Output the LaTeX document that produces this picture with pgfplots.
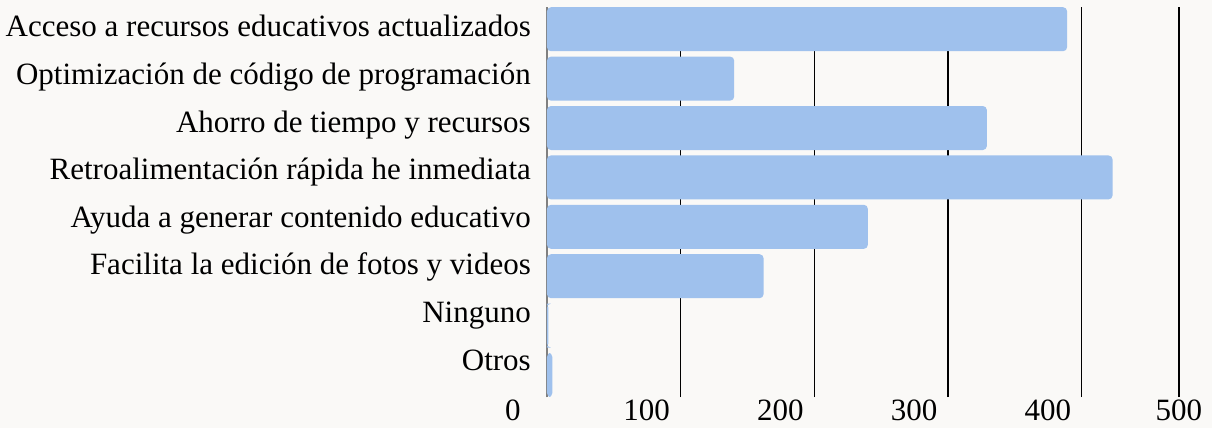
\documentclass[border=0pt]{standalone}
\usepackage{pgfplots}
\pgfplotsset{compat=1.18}
\usepackage{fontspec}
\setmainfont{Liberation Serif}
\newfontfamily\lblserif{Liberation Serif}
\definecolor{barc}{HTML}{9FC1ED}
\definecolor{bgc}{HTML}{FAF9F7}
\newcommand{\lblfont}{\lblserif\fontsize{31bp}{37bp}\selectfont}

\begin{document}
\begin{tikzpicture}
\fill[bgc] (-547bp,-31bp) rectangle (665bp,397bp);
\begin{axis}[
  at={(0,0)}, anchor=south west,
  scale only axis, width=632bp, height=390bp,
  xbar, bar width=44bp, bar shift=0pt,
  xmin=0, xmax=472.7, ymin=-0.445, ymax=7.45,
  axis x line*=bottom, axis y line*=left,
  x axis line style={draw=none}, y axis line style={draw=gray, line width=1.5bp, -},
  major tick length=0pt,
  xmajorgrids, major grid style={black, line width=1.2bp},
  xtick={0,100,200,300,400,472.7},
  xticklabels={0,100,200,300,400,\makebox[0pt]{\hspace{68bp}500}},
  xticklabel style={font=\lblfont, anchor=north, inner sep=0pt, xshift=-34bp, yshift=-3bp},
  ytick={0.098,1.061,2.025,2.989,3.952,4.916,5.879,6.843},
  yticklabels={Otros, Ninguno, Facilita la edición de fotos y videos,
    Ayuda a generar contenido educativo, Retroalimentación rápida he inmediata,
    Ahorro de tiempo y recursos, Optimización de código de programación,
    Acceso a recursos educativos actualizados},
  yticklabel style={font=\lblfont, anchor=base east, inner sep=0pt, xshift=-16bp},
]
\addplot[draw=none, fill=barc, rounded corners=4bp] coordinates {
  (4,0) (1,1) (162,2) (240,3) (423,4) (329,5) (140,6) (389,7)};
\end{axis}
\pgfresetboundingbox
\path (-547bp,-31bp) rectangle (665bp,397bp);
\end{tikzpicture}
\end{document}
